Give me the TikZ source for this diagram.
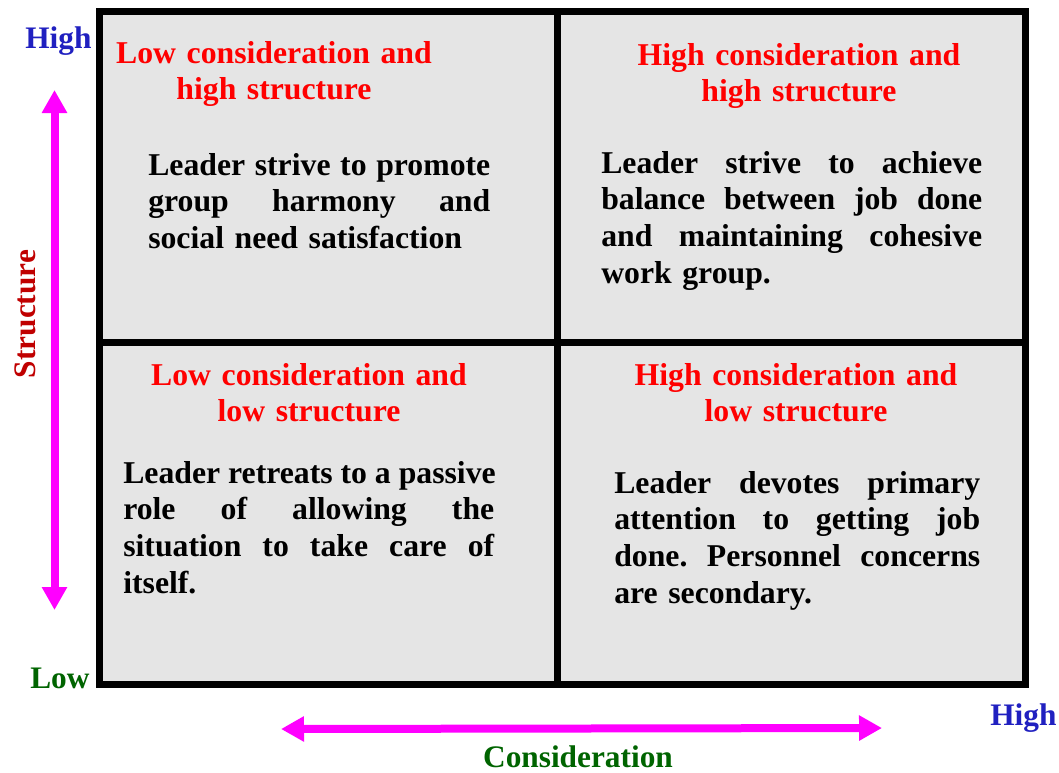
\documentclass[tikz,border=0pt]{standalone}
\usepackage{fontspec}
\setmainfont{Liberation Serif}
\usetikzlibrary{arrows.meta}
\definecolor{cellgray}{RGB}{229,229,229}
\definecolor{axisblue}{RGB}{32,32,192}
\definecolor{axisgreen}{RGB}{0,100,0}
\definecolor{axisred}{RGB}{192,0,0}
\definecolor{arrowpink}{RGB}{255,0,255}
% a fully justified line of a paragraph
\newcommand{\jline}[1]{\leavevmode\hbox to \hsize{\frenchspacing\spaceskip=0.25em plus 10em\relax #1}}

\begin{document}
\begin{tikzpicture}[x=0.75pt,y=-0.75pt,
  quadtitle/.style={text=red, font=\bfseries\fontsize{23.8}{27}\selectfont,
    align=center, text width=300pt, inner sep=0pt, anchor=base},
  quadbody/.style={font=\bfseries\fontsize{23.8}{27.6}\selectfont,
    align=left, inner sep=0pt, anchor=base west},
  axislabel/.style={font=\bfseries\fontsize{23.5}{28}\selectfont, inner sep=0pt},
  axisarrow/.style={draw=arrowpink, line width=6pt,
    {Triangle[length=17.25pt,width=18pt]}-{Triangle[length=17.25pt,width=18pt]}},
  gridline/.style={line width=5.25pt}]

\useasboundingbox (0,0) rectangle (1059,772);

% the four cells
\draw[gridline, fill=cellgray] (99,11.5) rectangle (1025,684.5);
\draw[gridline] (557,11.5) -- (557,684.5);
\draw[gridline] (99,342) -- (1025,342);

% cell headings
\node[quadtitle] (tlT) at (274,63) {Low consideration and\\high structure};
\node[quadtitle] (trT) at (799,65) {High consideration and\\high structure};
\node[quadtitle] (blT) at (309,385) {Low consideration and\\low structure};
\node[quadtitle] (brT) at (796,385) {High consideration and\\low structure};

% cell descriptions
\node[quadbody, text width=256.5pt] (tlB) at (148,175)
  {\jline{Leader strive to promote}\\
   \jline{group harmony and}\\
   social need satisfaction};
\node[quadbody, text width=285.75pt] (trB) at (601,173)
  {\jline{Leader strive to achieve}\\
   \jline{balance between job done}\\
   \jline{and maintaining cohesive}\\
   work group.};
\node[quadbody, text width=278.25pt] (blB) at (123,483)
  {\jline{Leader retreats to a passive}\\
   \jline{role of allowing the}\\
   \jline{situation to take care of}\\
   itself.};
\node[quadbody, text width=274.5pt] (brB) at (614,493)
  {\jline{Leader devotes primary}\\
   \jline{attention to getting job}\\
   \jline{done. Personnel concerns}\\
   are secondary.};

% axes
\node[axislabel, text=axisblue, anchor=base west] (yHigh) at (25,48) {High};
\node[axislabel, text=axisgreen, anchor=base west] (yLow) at (30,688) {Low};
\node[axislabel, text=axisblue, anchor=base west] (xHigh) at (990,725) {High};
\node[axislabel, text=axisgreen, anchor=base] (xName) at (578,767) {Consideration};
\node[axislabel, text=axisred, anchor=base, rotate=90] (yName) at (35.5,314) {Structure};

\coordinate (yTop) at (54.5,90);
\coordinate (yBot) at (54.5,610);
\coordinate (xLeft) at (281,729);
\coordinate (xRight) at (882,728);
\draw[axisarrow] (yBot) -- (yTop);
\draw[axisarrow] (xLeft) -- (xRight);
\end{tikzpicture}
\end{document}
